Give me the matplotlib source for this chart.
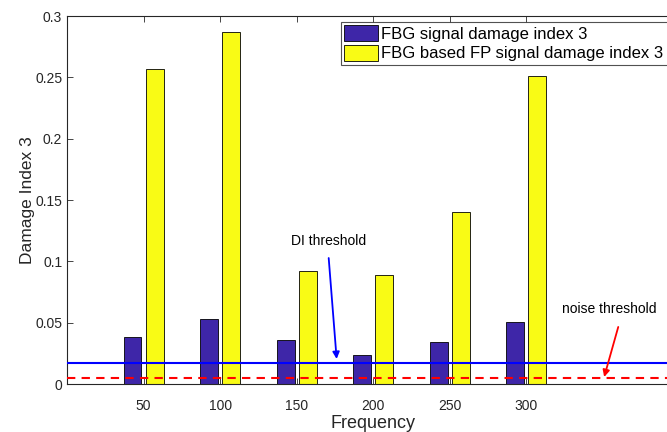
import matplotlib
matplotlib.use("Agg")
import matplotlib.pyplot as plt
import numpy as np

plt.rcParams['font.family'] = ['Liberation Sans', 'DejaVu Sans']

frequencies = [50, 100, 150, 200, 250, 300]
fbg_di = [0.0386, 0.0527, 0.0355, 0.0236, 0.0346, 0.0502]
fp_di = [0.2566, 0.2866, 0.0922, 0.0885, 0.1400, 0.2510]
di_threshold = 0.0175
noise_threshold = 0.0045
x_ticks = [50, 100, 150, 200, 250, 300]
y_ticks = [0, 0.05, 0.1, 0.15, 0.2, 0.25, 0.3]
y_tick_labels = ['0', '0.05', '0.1', '0.15', '0.2', '0.25', '0.3']

W, H = 667, 432
fig = plt.figure(figsize=(W / 100, H / 100), dpi=100)
ax_left, ax_right, ax_top, ax_bottom = 67, 679.5, 16, 384
ax = fig.add_axes([ax_left / W, (H - ax_bottom) / H, (ax_right - ax_left) / W, (ax_bottom - ax_top) / H])

blue = '#3e26a8'
yellow = '#f9fb15'
axcol = '#262626'
x = np.array(frequencies, dtype=float)
bw = 11.7
off = 7.2
ax.bar(x - off, fbg_di, width=bw, color=blue, edgecolor='black', linewidth=0.6,
       label='FBG signal damage index 3', zorder=2)
ax.bar(x + off, fp_di, width=bw, color=yellow, edgecolor='black', linewidth=0.6,
       label='FBG based FP signal damage index 3', zorder=2)

ax.axhline(di_threshold, color='#0000ff', linewidth=1.5, zorder=3)
ax.axhline(noise_threshold, color='#ff0000', linewidth=1.5, linestyle=(0, (4, 3)), zorder=3)

ax.set_xlim(0, 400)
ax.set_ylim(0, 0.3)
ax.set_xticks(x_ticks)
ax.set_yticks(y_ticks)
ax.set_yticklabels(y_tick_labels)
ax.tick_params(direction='in', length=4, width=0.6, colors=axcol, labelsize=10,
               top=True, right=True)
ax.tick_params(axis='x', pad=11)
for s in ax.spines.values():
    s.set_color(axcol)
    s.set_linewidth(0.8)

ax.set_xlabel('Frequency', fontsize=13, color=axcol, labelpad=1)
ax.set_ylabel('Damage Index 3', fontsize=12.5, color=axcol, labelpad=0)

aw = ax_right - ax_left
ah = ax_bottom - ax_top
lx0 = (341 - ax_left) / aw
ltop = 1 - (22 - ax_top) / ah
leg = ax.legend(loc='upper left', bbox_to_anchor=(lx0, 0, (676 - 341) / aw, ltop), mode='expand',
                fontsize=12, frameon=True, fancybox=False, edgecolor=axcol,
                borderpad=0.2, handlelength=2.0, handleheight=1.1, handletextpad=0.2,
                labelspacing=0.15, borderaxespad=0)
leg.get_frame().set_linewidth(0.8)

# DI threshold annotation
ax.text(171, 0.111, 'DI threshold', ha='center', va='bottom', fontsize=10, color='black')
ax.annotate('', xy=(176.1, 0.0204), xytext=(170.9, 0.1027),
            arrowprops=dict(arrowstyle='-|>', color='#0000ff', lw=1.3,
                            mutation_scale=10, shrinkA=0, shrinkB=0))
# noise threshold annotation
ax.text(354, 0.0554, 'noise threshold', ha='center', va='bottom', fontsize=10, color='black')
ax.annotate('', xy=(350.8, 0.0057), xytext=(360, 0.0465),
            arrowprops=dict(arrowstyle='-|>', color='#ff0000', lw=1.3,
                            mutation_scale=10, shrinkA=0, shrinkB=0))

fig.savefig('out.png', dpi=100)
